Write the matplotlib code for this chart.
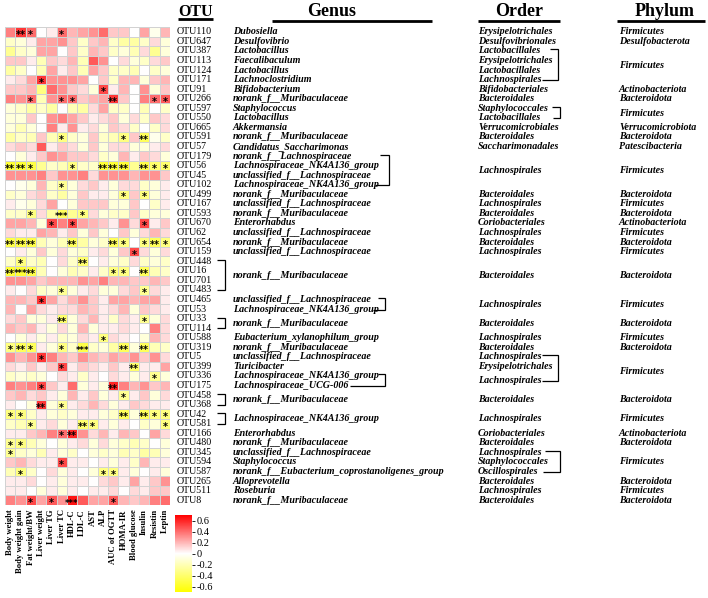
import numpy as np
import matplotlib.pyplot as plt
from matplotlib.colors import LinearSegmentedColormap

# ===================== Data =====================
TRAITS = ["Body weight", "Body weight gain", "Fat weight/BW", "Liver weight",
          "Liver TG", "Liver TC", "HDL-C", "LDL-C", "AST", "ALP",
          "AUC of OGTT", "HOMA-IR", "Blood glucose", "Insulin", "Resistin", "Leptin"]

OTU_IDS = ["OTU110", "OTU647", "OTU387", "OTU113", "OTU124", "OTU171", "OTU91", "OTU266",
           "OTU597", "OTU550", "OTU665", "OTU591", "OTU57", "OTU179", "OTU56", "OTU45",
           "OTU102", "OTU499", "OTU167", "OTU593", "OTU670", "OTU62", "OTU654", "OTU159",
           "OTU448", "OTU16", "OTU701", "OTU483", "OTU465", "OTU53", "OTU33", "OTU114",
           "OTU588", "OTU319", "OTU5", "OTU399", "OTU336", "OTU175", "OTU458", "OTU368",
           "OTU42", "OTU581", "OTU166", "OTU480", "OTU345", "OTU594", "OTU587", "OTU265",
           "OTU511", "OTU8"]

# Spearman correlation (rows = OTUs, columns = traits)
CORR = [
    [0.35, 0.55, 0.4, 0.0, 0.05, 0.4, 0.2, 0.25, 0.3, 0.4, 0.15, 0.15, 0.0, 0.25, -0.05, 0.2],
    [-0.15, -0.1, 0.05, 0.25, 0.25, 0.3, 0.15, -0.15, 0.15, 0.2, -0.15, -0.25, -0.25, -0.15, 0.1, -0.1],
    [-0.3, -0.15, -0.1, 0.25, 0.25, 0.0, 0.15, -0.15, 0.2, 0.15, -0.15, -0.1, -0.2, 0.1, -0.3, -0.1],
    [0.15, 0.15, 0.05, -0.2, 0.15, 0.1, 0.2, -0.2, 0.45, 0.3, 0.0, 0.1, -0.1, -0.15, 0.1, 0.15],
    [-0.25, -0.15, 0.0, -0.2, 0.25, 0.05, 0.15, -0.2, 0.25, 0.15, -0.15, -0.15, -0.2, 0.0, -0.15, -0.1],
    [0.05, 0.1, 0.25, 0.55, 0.3, 0.3, 0.3, 0.25, 0.0, 0.15, -0.15, 0.2, 0.2, -0.1, 0.15, 0.2],
    [0.15, 0.15, 0.2, -0.35, 0.4, 0.3, 0.15, 0.1, -0.1, 0.5, 0.05, 0.2, 0.0, 0.3, -0.1, 0.15],
    [0.35, 0.3, 0.4, -0.2, 0.3, 0.4, 0.4, 0.15, 0.2, 0.25, 0.55, 0.15, 0.0, 0.35, 0.4, 0.45],
    [-0.1, -0.15, -0.25, -0.15, -0.25, 0.0, -0.2, -0.25, 0.1, 0.25, -0.15, -0.15, 0.0, -0.2, 0.0, -0.15],
    [-0.1, -0.1, 0.15, 0.0, 0.3, 0.35, 0.25, 0.15, 0.05, 0.1, 0.15, -0.1, 0.1, -0.15, 0.15, 0.1],
    [-0.1, -0.2, -0.1, 0.0, 0.35, 0.05, 0.3, 0.05, 0.1, -0.1, 0.15, 0.1, -0.15, 0.0, -0.15, 0.1],
    [-0.25, -0.15, -0.2, 0.15, -0.2, -0.35, -0.15, -0.1, 0.15, -0.15, -0.2, -0.35, 0.15, -0.45, -0.05, -0.15],
    [0.1, 0.15, 0.1, 0.45, 0.05, 0.15, 0.1, -0.1, 0.15, -0.1, 0.1, 0.1, -0.1, -0.1, 0.05, 0.1],
    [0.0, -0.1, 0.05, 0.15, 0.3, 0.25, 0.15, 0.15, 0.1, -0.15, -0.1, 0.2, 0.05, 0.15, 0.1, -0.1],
    [-0.55, -0.55, -0.5, -0.3, -0.15, -0.2, -0.35, -0.15, -0.15, -0.55, -0.55, -0.55, -0.3, -0.5, -0.4, -0.4],
    [0.3, 0.3, 0.3, 0.35, 0.15, 0.3, 0.3, 0.35, 0.1, 0.3, 0.3, 0.3, 0.2, 0.3, 0.3, 0.15],
    [0.0, -0.05, -0.1, 0.2, -0.15, -0.3, -0.1, 0.1, 0.15, 0.05, -0.1, 0.1, 0.1, -0.15, -0.1, 0.05],
    [-0.15, -0.1, 0.1, 0.15, -0.15, -0.25, -0.1, 0.15, 0.05, 0.05, -0.1, -0.35, 0.15, -0.35, -0.1, 0.05],
    [0.05, -0.05, -0.1, 0.1, 0.25, 0.0, -0.1, 0.15, 0.15, 0.15, -0.1, -0.1, 0.15, 0.0, -0.15, 0.05],
    [-0.15, -0.15, -0.35, 0.1, -0.25, -0.45, -0.3, -0.35, 0.1, -0.1, -0.15, -0.15, 0.15, -0.15, -0.1, -0.1],
    [0.25, 0.25, 0.2, -0.1, 0.5, 0.35, 0.5, 0.25, 0.2, 0.15, 0.05, 0.3, 0.1, 0.5, 0.05, 0.15],
    [0.1, 0.05, 0.05, 0.25, 0.2, 0.05, 0.15, -0.1, 0.15, -0.1, 0.0, 0.15, -0.1, 0.1, 0.2, 0.1],
    [-0.5, -0.5, -0.5, -0.2, -0.1, -0.2, -0.45, -0.25, -0.1, -0.15, -0.45, -0.35, 0.0, -0.35, -0.45, -0.35],
    [0.0, 0.05, -0.1, 0.15, -0.1, 0.1, -0.1, -0.15, 0.05, 0.1, -0.1, 0.15, 0.5, 0.1, -0.1, 0.1],
    [-0.15, -0.35, -0.15, -0.2, 0.0, 0.1, -0.15, -0.4, 0.0, 0.05, -0.1, -0.15, 0.1, -0.15, -0.1, -0.15],
    [-0.55, -0.55, -0.5, -0.2, 0.0, -0.1, -0.2, -0.15, 0.05, -0.15, -0.35, -0.35, 0.0, -0.45, -0.2, -0.15],
    [0.3, 0.3, 0.25, 0.15, 0.2, 0.2, 0.2, 0.3, 0.25, 0.35, 0.2, 0.2, 0.15, 0.15, 0.2, 0.15],
    [0.05, 0.0, 0.1, -0.15, -0.1, -0.3, -0.1, 0.05, 0.1, -0.1, -0.1, 0.1, 0.15, -0.3, 0.1, 0.05],
    [0.2, 0.2, 0.15, 0.55, 0.25, 0.1, 0.2, 0.3, 0.15, 0.05, 0.25, 0.25, 0.2, 0.25, 0.25, 0.05],
    [0.2, 0.0, 0.25, 0.1, 0.05, 0.1, 0.1, 0.2, 0.15, 0.05, 0.1, 0.2, -0.1, 0.15, 0.1, 0.05],
    [0.1, 0.15, -0.1, -0.1, 0.05, -0.4, -0.1, 0.1, 0.2, 0.05, -0.15, 0.1, 0.05, -0.3, -0.1, 0.1],
    [0.2, 0.15, 0.2, 0.05, -0.1, 0.1, -0.1, 0.2, -0.1, 0.05, 0.05, 0.1, 0.05, 0.0, 0.35, 0.1],
    [0.0, -0.1, 0.05, -0.1, 0.05, -0.15, -0.1, 0.1, 0.05, -0.35, 0.1, 0.05, 0.0, -0.1, 0.2, 0.1],
    [-0.35, -0.45, -0.45, 0.05, -0.1, -0.35, -0.15, -0.5, -0.15, -0.1, -0.25, -0.45, -0.1, -0.45, -0.2, -0.15],
    [0.3, 0.2, 0.3, 0.55, 0.35, 0.2, 0.15, 0.3, 0.2, 0.15, 0.25, 0.2, 0.3, 0.15, 0.3, 0.1],
    [0.1, 0.05, 0.15, 0.05, 0.15, 0.5, 0.05, 0.15, 0.1, 0.05, 0.15, 0.05, -0.4, 0.05, 0.05, 0.25],
    [-0.15, -0.1, -0.15, -0.1, 0.0, 0.1, 0.05, -0.15, 0.05, 0.0, 0.1, 0.05, -0.1, 0.05, -0.3, -0.1],
    [0.35, 0.3, 0.35, 0.5, 0.15, 0.05, 0.4, -0.1, 0.05, -0.1, 0.6, 0.35, 0.2, 0.3, 0.15, 0.2],
    [0.15, 0.2, 0.1, 0.15, 0.05, -0.1, 0.2, 0.05, 0.15, -0.1, 0.05, -0.3, 0.05, 0.15, -0.1, 0.1],
    [0.05, 0.0, -0.1, 0.55, -0.1, -0.3, 0.05, 0.1, 0.2, 0.1, -0.1, 0.05, 0.15, 0.1, 0.05, 0.05],
    [-0.35, -0.35, -0.15, 0.05, -0.1, -0.15, -0.1, 0.05, 0.05, -0.1, -0.15, -0.45, -0.1, -0.45, -0.35, -0.35],
    [-0.15, -0.2, -0.3, 0.05, 0.1, -0.1, 0.05, -0.4, -0.35, 0.05, -0.1, 0.05, 0.0, -0.15, -0.1, -0.35],
    [0.05, 0.05, 0.15, 0.2, 0.35, 0.4, 0.6, 0.3, 0.1, 0.2, 0.05, 0.2, 0.15, 0.0, 0.25, 0.1],
    [-0.3, -0.35, -0.2, -0.1, 0.0, -0.1, 0.05, 0.1, -0.1, 0.1, -0.1, -0.15, -0.2, -0.15, 0.0, -0.1],
    [-0.3, -0.15, -0.1, -0.2, 0.05, -0.1, -0.15, 0.0, -0.1, -0.15, -0.1, -0.2, -0.15, -0.25, -0.2, -0.1],
    [0.15, 0.2, 0.1, 0.05, 0.05, 0.5, 0.05, 0.05, 0.0, 0.05, -0.1, 0.05, -0.15, 0.2, 0.05, 0.05],
    [-0.2, -0.35, -0.15, 0.0, 0.1, -0.1, 0.05, 0.0, -0.1, -0.35, -0.35, 0.05, -0.1, 0.0, 0.05, -0.1],
    [0.05, 0.05, 0.1, 0.0, 0.05, -0.1, 0.05, 0.05, 0.0, 0.1, 0.15, 0.05, 0.25, 0.05, 0.15, 0.3],
    [0.05, 0.05, 0.0, -0.1, 0.05, -0.1, 0.05, 0.0, 0.05, 0.05, 0.1, 0.0, 0.1, 0.05, 0.15, 0.15],
    [0.35, 0.3, 0.5, 0.25, 0.45, 0.3, 0.65, 0.45, 0.25, 0.25, 0.45, 0.2, 0.15, 0.2, 0.35, 0.4],
]

# number of significance stars per cell
SIG = [
    [0, 2, 1, 0, 0, 1, 0, 0, 0, 0, 0, 0, 0, 0, 0, 0],
    [0] * 16,
    [0] * 16,
    [0] * 16,
    [0] * 16,
    [0, 0, 0, 1, 0, 0, 0, 0, 0, 0, 0, 0, 0, 0, 0, 0],
    [0, 0, 0, 0, 0, 0, 0, 0, 0, 1, 0, 0, 0, 0, 0, 0],
    [0, 0, 1, 0, 0, 1, 1, 0, 0, 0, 2, 0, 0, 0, 1, 1],
    [0] * 16,
    [0] * 16,
    [0] * 16,
    [0, 0, 0, 0, 0, 1, 0, 0, 0, 0, 0, 1, 0, 2, 0, 0],
    [0] * 16,
    [0] * 16,
    [2, 2, 1, 0, 0, 0, 1, 0, 0, 2, 2, 2, 0, 2, 1, 1],
    [0] * 16,
    [0, 0, 0, 0, 0, 1, 0, 0, 0, 0, 0, 0, 0, 0, 0, 0],
    [0, 0, 0, 0, 0, 0, 0, 0, 0, 0, 0, 1, 0, 1, 0, 0],
    [0] * 16,
    [0, 0, 1, 0, 0, 3, 0, 1, 0, 0, 0, 0, 0, 0, 0, 0],
    [0, 0, 0, 0, 1, 0, 1, 0, 0, 0, 0, 0, 0, 1, 0, 0],
    [0] * 16,
    [2, 2, 2, 0, 0, 0, 2, 0, 0, 0, 2, 1, 0, 1, 2, 1],
    [0, 0, 0, 0, 0, 0, 0, 0, 0, 0, 0, 0, 1, 0, 0, 0],
    [0, 1, 0, 0, 0, 0, 0, 2, 0, 0, 0, 0, 0, 0, 0, 0],
    [2, 3, 2, 0, 0, 0, 0, 0, 0, 0, 1, 1, 0, 2, 0, 0],
    [0] * 16,
    [0, 0, 0, 0, 0, 1, 0, 0, 0, 0, 0, 0, 0, 1, 0, 0],
    [0, 0, 0, 1, 0, 0, 0, 0, 0, 0, 0, 0, 0, 0, 0, 0],
    [0] * 16,
    [0, 0, 0, 0, 0, 2, 0, 0, 0, 0, 0, 0, 0, 1, 0, 0],
    [0] * 16,
    [0, 0, 0, 0, 0, 0, 0, 0, 0, 1, 0, 0, 0, 0, 0, 0],
    [1, 2, 1, 0, 0, 1, 0, 3, 0, 0, 0, 2, 0, 2, 0, 0],
    [0, 0, 0, 1, 0, 0, 0, 0, 0, 0, 0, 0, 0, 0, 0, 0],
    [0, 0, 0, 0, 0, 1, 0, 0, 0, 0, 0, 0, 2, 0, 0, 0],
    [0, 0, 0, 0, 0, 0, 0, 0, 0, 0, 0, 0, 0, 0, 1, 0],
    [0, 0, 0, 1, 0, 0, 0, 0, 0, 0, 2, 0, 0, 0, 0, 0],
    [0, 0, 0, 0, 0, 0, 0, 0, 0, 0, 0, 1, 0, 0, 0, 0],
    [0, 0, 0, 2, 0, 1, 0, 0, 0, 0, 0, 0, 0, 0, 0, 0],
    [1, 1, 0, 0, 0, 0, 0, 0, 0, 0, 0, 2, 0, 2, 1, 1],
    [0, 0, 1, 0, 0, 0, 0, 2, 1, 0, 0, 0, 0, 0, 0, 1],
    [0, 0, 0, 0, 0, 1, 2, 0, 0, 0, 0, 0, 0, 0, 0, 0],
    [1, 1, 0, 0, 0, 0, 0, 0, 0, 0, 0, 0, 0, 0, 0, 0],
    [1, 0, 0, 0, 0, 0, 0, 0, 0, 0, 0, 0, 0, 0, 0, 0],
    [0, 0, 0, 0, 0, 1, 0, 0, 0, 0, 0, 0, 0, 0, 0, 0],
    [0, 1, 0, 0, 0, 0, 0, 0, 0, 1, 1, 0, 0, 0, 0, 0],
    [0] * 16,
    [0] * 16,
    [0, 0, 1, 0, 1, 0, 3, 0, 0, 0, 1, 0, 0, 0, 0, 0],
]

# (label, first row, last row)
GENUS_LABELS = [
    ("Dubosiella", 0, 0), ("Desulfovibrio", 1, 1), ("Lactobacillus", 2, 2),
    ("Faecalibaculum", 3, 3), ("Lactobacillus", 4, 4), ("Lachnoclostridium", 5, 5),
    ("Bifidobacterium", 6, 6), ("norank_f__Muribaculaceae", 7, 7), ("Staphylococcus", 8, 8),
    ("Lactobacillus", 9, 9), ("Akkermansia", 10, 10), ("norank_f__Muribaculaceae", 11, 11),
    ("Candidatus_Saccharimonas", 12, 12), ("norank_f__Lachnospiraceae", 13, 13),
    ("Lachnospiraceae_NK4A136_group", 14, 14), ("unclassified_f__Lachnospiraceae", 15, 15),
    ("Lachnospiraceae_NK4A136_group", 16, 16), ("norank_f__Muribaculaceae", 17, 17),
    ("unclassified_f__Lachnospiraceae", 18, 18), ("norank_f__Muribaculaceae", 19, 19),
    ("Enterorhabdus", 20, 20), ("unclassified_f__Lachnospiraceae", 21, 21),
    ("norank_f__Muribaculaceae", 22, 22), ("unclassified_f__Lachnospiraceae", 23, 23),
    ("norank_f__Muribaculaceae", 24, 27), ("unclassified_f__Lachnospiraceae", 28, 28),
    ("Lachnospiraceae_NK4A136_group", 29, 29), ("norank_f__Muribaculaceae", 30, 31),
    ("Eubacterium_xylanophilum_group", 32, 32), ("norank_f__Muribaculaceae", 33, 33),
    ("unclassified_f__Lachnospiraceae", 34, 34), ("Turicibacter", 35, 35),
    ("Lachnospiraceae_NK4A136_group", 36, 36), ("Lachnospiraceae_UCG-006", 37, 37),
    ("norank_f__Muribaculaceae", 38, 39), ("Lachnospiraceae_NK4A136_group", 40, 41),
    ("Enterorhabdus", 42, 42), ("norank_f__Muribaculaceae", 43, 43),
    ("unclassified_f__Lachnospiraceae", 44, 44), ("Staphylococcus", 45, 45),
    ("norank_f__Eubacterium_coprostanoligenes_group", 46, 46), ("Alloprevotella", 47, 47),
    ("Roseburia", 48, 48), ("norank_f__Muribaculaceae", 49, 49),
]

ORDER_LABELS = [
    ("Erysipelotrichales", 0, 0), ("Desulfovibrionales", 1, 1), ("Lactobacillales", 2, 2),
    ("Erysipelotrichales", 3, 3), ("Lactobacillales", 4, 4), ("Lachnospirales", 5, 5),
    ("Bifidobacteriales", 6, 6), ("Bacteroidales", 7, 7), ("Staphylococcales", 8, 8),
    ("Lactobacillales", 9, 9), ("Verrucomicrobiales", 10, 10), ("Bacteroidales", 11, 11),
    ("Saccharimonadales", 12, 12), ("Lachnospirales", 13, 16), ("Bacteroidales", 17, 17),
    ("Lachnospirales", 18, 18), ("Bacteroidales", 19, 19), ("Coriobacteriales", 20, 20),
    ("Lachnospirales", 21, 21), ("Bacteroidales", 22, 22), ("Lachnospirales", 23, 23),
    ("Bacteroidales", 24, 27), ("Lachnospirales", 28, 29), ("Bacteroidales", 30, 31),
    ("Lachnospirales", 32, 32), ("Bacteroidales", 33, 33), ("Lachnospirales", 34, 34),
    ("Erysipelotrichales", 35, 35), ("Lachnospirales", 36, 37), ("Bacteroidales", 38, 39),
    ("Lachnospirales", 40, 41), ("Coriobacteriales", 42, 42), ("Bacteroidales", 43, 43),
    ("Lachnospirales", 44, 44), ("Staphylococcales", 45, 45), ("Oscillospirales", 46, 46),
    ("Bacteroidales", 47, 47), ("Lachnospirales", 48, 48), ("Bacteroidales", 49, 49),
]

PHYLUM_LABELS = [
    ("Firmicutes", 0, 0), ("Desulfobacterota", 1, 1), ("Firmicutes", 2, 5),
    ("Actinobacteriota", 6, 6), ("Bacteroidota", 7, 7), ("Firmicutes", 8, 9),
    ("Verrucomicrobiota", 10, 10), ("Bacteroidota", 11, 11), ("Patescibacteria", 12, 12),
    ("Firmicutes", 13, 16), ("Bacteroidota", 17, 17), ("Firmicutes", 18, 18),
    ("Bacteroidota", 19, 19), ("Actinobacteriota", 20, 20), ("Firmicutes", 21, 21),
    ("Bacteroidota", 22, 22), ("Firmicutes", 23, 23), ("Bacteroidota", 24, 27),
    ("Firmicutes", 28, 29), ("Bacteroidota", 30, 31), ("Firmicutes", 32, 32),
    ("Bacteroidota", 33, 33), ("Firmicutes", 34, 37), ("Bacteroidota", 38, 39),
    ("Firmicutes", 40, 41), ("Actinobacteriota", 42, 42), ("Bacteroidota", 43, 43),
    ("Firmicutes", 44, 46), ("Bacteroidota", 47, 47), ("Firmicutes", 48, 48),
    ("Bacteroidota", 49, 49),
]

# bracketed row groups
OTU_GROUPS = [(24, 27), (30, 31), (38, 39), (40, 41)]
GENUS_GROUPS = [(13, 16), (28, 29), (36, 37)]
ORDER_GROUPS = [(2, 5), (8, 9), (34, 37), (44, 46)]

CBAR_TICKS = [0.6, 0.4, 0.2, 0, -0.2, -0.4, -0.6]

# ===================== Layout (pixels) =====================
W, H = 708, 598
HM_LEFT, HM_RIGHT, HM_TOP, HM_BOTTOM = 5, 170, 27, 505
X_OTU, X_GENUS, X_ORDER, X_PHYLUM = 177, 233, 478, 619
TXT_SIZE = 7.2
# bracket x positions: (vertical line, top tick start, bottom tick start)
GENUS_BRACKET_X = [(389, 380, 375), (385, 378, 373), (385, 378, 350)]
ORDER_BRACKET_X = [(558, 550, 542), (560, 552, 553), (558, 542, 542), (560, 545, 543)]

plt.rcParams["font.family"] = ["Liberation Serif", "DejaVu Serif"]

cmap = LinearSegmentedColormap.from_list("yw_r", ["#ffff00", "#ffffff", "#ff0000"])
VMIN, VMAX = -0.7, 0.7

n_rows = len(OTU_IDS)
n_cols = len(TRAITS)
ROW_H = (HM_BOTTOM - HM_TOP) / n_rows


def fx(px):
    return px / W


def fy(py):
    return 1 - py / H


def row_center(a, b=None):
    if b is None:
        b = a
    return HM_TOP + ((a + b) / 2 + 0.5) * ROW_H


def label_center(labels, row):
    for _, a, b in labels:
        if a <= row <= b:
            return row_center(a, b)
    return row_center(row)


def bracket(ax, xv, y0, y1, xt0, xt1, lw=0.9):
    ax.plot([xt0, xv, xv, xt1], [y0, y0, y1, y1], color="black", lw=lw,
            solid_joinstyle="miter", solid_capstyle="butt")


fig = plt.figure(figsize=(W / 100, H / 100), dpi=100)

# ---------- heatmap ----------
ax = fig.add_axes([fx(HM_LEFT), fy(HM_BOTTOM), fx(HM_RIGHT - HM_LEFT), (HM_BOTTOM - HM_TOP) / H])
data = np.array(CORR)
mesh = ax.pcolormesh(np.arange(n_cols + 1), np.arange(n_rows + 1), data, cmap=cmap,
                     vmin=VMIN, vmax=VMAX, edgecolors="#d2d2d2", linewidth=0.5)
ax.set_xlim(0, n_cols)
ax.set_ylim(n_rows, 0)
for s in ax.spines.values():
    s.set_visible(False)
ax.set_yticks([])
ax.set_xticks(np.arange(n_cols) + 0.5)
ax.set_xticklabels(TRAITS, rotation=90, fontsize=6.2, fontweight="bold", va="top")
ax.tick_params(axis="x", length=0, pad=3)

for r in range(n_rows):
    for c in range(n_cols):
        k = SIG[r][c]
        if k:
            ax.text(c + 0.5, r + 0.82, "*" * k, ha="center", va="center",
                    fontsize=7 if k < 3 else 6,
                    fontweight="bold", family="DejaVu Sans", color="black")

# ---------- colorbar ----------
cax = fig.add_axes([fx(175), fy(592), fx(17), 77 / H])
cb = fig.colorbar(mesh, cax=cax, ticks=CBAR_TICKS)
cb.outline.set_visible(False)
cax.set_yticklabels([f"{t:g}" for t in CBAR_TICKS])
cax.tick_params(labelsize=7.5, length=2, width=0.6, pad=1)

# ---------- annotation table ----------
tx = fig.add_axes([0, 0, 1, 1])
tx.set_xlim(0, W)
tx.set_ylim(H, 0)
tx.axis("off")
tx.patch.set_alpha(0)

# headers
HEADER_Y = 11.5
for name, xc, x0, x1, yl, fs in [("OTU", 196, 178, 213, 18.5, 11.5),
                                  ("Genus", 332, 272, 432, 21, 13),
                                  ("Order", 519, 478, 560, 21, 13),
                                  ("Phylum", 665, 617, 705, 21, 13)]:
    tx.text(xc, HEADER_Y, name, ha="center", va="center", fontsize=fs, fontweight="bold")
    tx.plot([x0, x1], [yl, yl], color="black", lw=2.0, solid_capstyle="butt")

for i, otu in enumerate(OTU_IDS):
    tx.text(X_OTU, row_center(i), otu, ha="left", va="center", fontsize=TXT_SIZE)

for labels, x0 in [(GENUS_LABELS, X_GENUS), (ORDER_LABELS, X_ORDER), (PHYLUM_LABELS, X_PHYLUM)]:
    for name, a, b in labels:
        tx.text(x0, row_center(a, b), name, ha="left", va="center", fontsize=TXT_SIZE,
                fontweight="bold", fontstyle="italic")

# brackets joining OTUs that share one genus label
for a, b in OTU_GROUPS:
    bracket(tx, 225, row_center(a) - 1, row_center(b), 217, 217)

for (a, b), (xv, xt0, xt1) in zip(GENUS_GROUPS, GENUS_BRACKET_X):
    bracket(tx, xv, label_center(GENUS_LABELS, a) - 1.5, label_center(GENUS_LABELS, b) + 0.5, xt0, xt1)

for (a, b), (xv, xt0, xt1) in zip(ORDER_GROUPS, ORDER_BRACKET_X):
    bracket(tx, xv, label_center(ORDER_LABELS, a) - 1.5, label_center(ORDER_LABELS, b) + 0.5, xt0, xt1)

fig.savefig("out.png", dpi=100)
plt.close(fig)
